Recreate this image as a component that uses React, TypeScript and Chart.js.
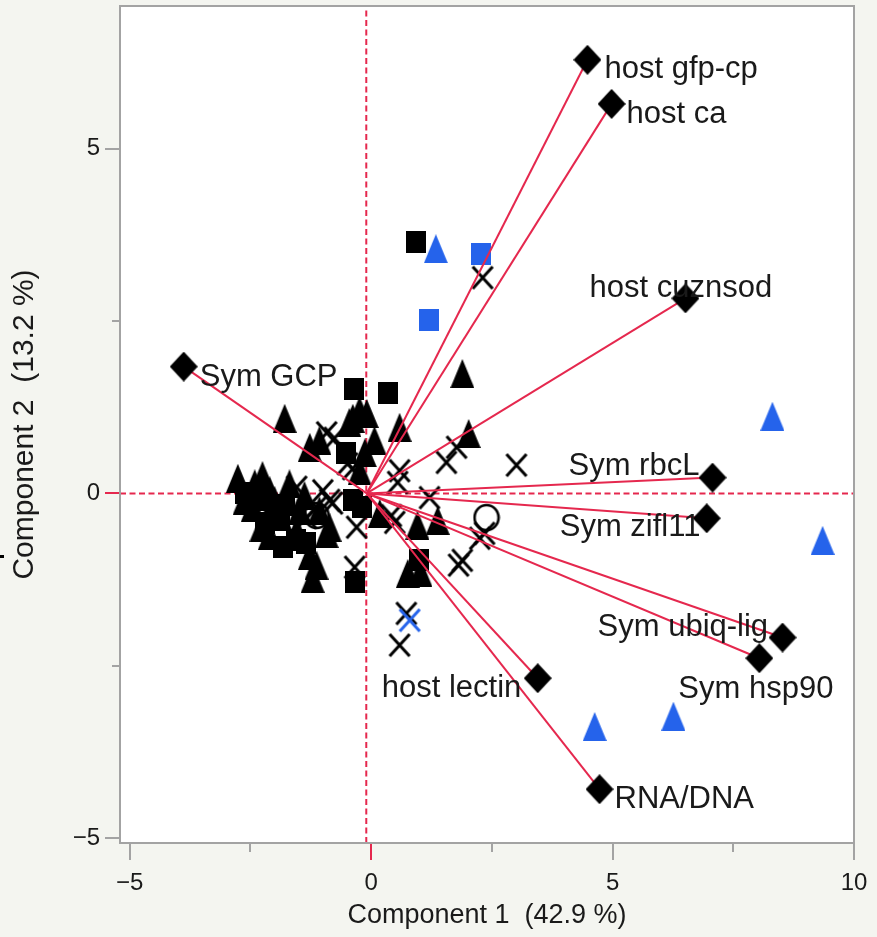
import { useEffect, useRef } from "react";
import { Chart, registerables } from "chart.js";

Chart.register(...registerables);

// ---------- axes ----------
const X_MIN = -5.2;
const X_MAX = 10;
const Y_MIN = -5.07;
const Y_MAX = 7.07;
const X_TICKS = [-5, -2.5, 0, 2.5, 5, 7.5, 10];
const Y_TICKS = [-5, -2.5, 0, 2.5, 5];
const X_TITLE = "Component 1  (42.9 %)";
const Y_TITLE = "Component 2  (13.2 %)";

// ---------- loadings (biplot rays) ----------
const ORIGIN: [number, number] = [-0.09, 0];
const LOADING_NAMES = [
  "host gfp-cp",
  "host ca",
  "host cuznsod",
  "Sym GCP",
  "Sym rbcL",
  "Sym zifl11",
  "Sym ubiq-lig",
  "Sym hsp90",
  "host lectin",
  "RNA/DNA",
];
const LOADING_X = [4.48, 4.98, 6.51, -3.88, 7.07, 6.95, 8.52, 8.04, 3.45, 4.73];
const LOADING_Y = [6.29, 5.65, 2.83, 1.84, 0.23, -0.36, -2.09, -2.39, -2.68, -4.29];

// ---------- scores ----------
const BLACK_TRIANGLES: [number, number][] = [
  [-1.79, 1.09], [-1.27, 0.67], [-1.07, 0.77], [-2.76, 0.22], [-2.41, 0.14],
  [-2.25, 0.26], [-1.69, 0.14], [-2.45, -0.2], [-2.27, -0.49], [-2.0, -0.1],
  [-1.48, -0.25], [-1.21, -1.23], [-0.92, -0.58], [-1.54, -0.54], [-2.1, -0.61],
  [-1.27, -0.9], [-1.07, -0.25], [-0.24, 1.2], [-0.09, 1.16], [0.59, 0.96],
  [-0.45, 1.03], [0.07, 0.77], [-0.13, 0.59], [1.89, 1.74], [2.02, 0.87],
  [0.96, -0.46], [1.38, -0.39], [0.18, -0.29], [0.76, -1.16], [1.02, -1.14],
  [-1.13, -1.04], [-0.38, 1.09], [-0.86, -0.49], [-0.24, 0.33], [-2.62, -0.1],
  [-1.89, -0.32], [-1.38, -0.03], [-2.1, 0.04],
];
const BLACK_SQUARES: [number, number][] = [
  [0.94, 3.65], [-0.36, 1.52], [0.34, 1.46], [-0.51, 0.59], [-0.38, -0.1],
  [-0.18, -0.2], [-0.34, -1.29], [1.0, -0.97], [-1.83, -0.78], [-1.34, -0.72],
  [-2.62, 0.01], [-2.2, -0.43], [-1.89, -0.39], [-1.56, -0.68], [-1.79, -0.17],
  [-2.35, -0.1],
];
const BLACK_CROSSES: [number, number][] = [
  [2.31, 3.13], [1.77, 0.67], [1.56, 0.45], [3.01, 0.41], [1.21, -0.06],
  [2.35, -0.58], [2.25, -0.65], [1.81, -1.04], [1.89, -0.97], [-0.34, -1.07],
  [0.73, -1.74], [0.59, -2.2], [0.59, 0.33], [0.55, 0.16], [-0.38, 0.36],
  [0.49, -0.42], [-0.3, -0.49], [-0.92, 0.88], [-0.49, 0.43], [-1.0, 0.04],
  [-0.8, -0.14], [-1.13, -0.2], [-0.86, -0.1], [-1.34, -0.35], [0.42, -0.32],
  [-1.54, 0.09], [-0.76, 0.8],
];
const BLACK_CIRCLES: [number, number][] = [[2.39, -0.35], [-1.13, -0.32]];
const BLUE_TRIANGLES: [number, number][] = [
  [1.34, 3.55], [8.31, 1.12], [9.35, -0.68], [6.26, -3.23], [4.63, -3.38],
];
const BLUE_SQUARES: [number, number][] = [[2.27, 3.48], [1.19, 2.51]];
const BLUE_CROSSES: [number, number][] = [[0.8, -1.84]];

// ---------- styling (not data) ----------
const LABEL_OFFSETS: [number, number][] = [
  [17, 18], [15, 19], [-96, -1], [16, 19], [-144, -3],
  [-147, 18], [-185, -2], [-81, 40], [-156, 19], [15, 19],
];
const RED = "#e5284e";
const BLUE = "#2563eb";
const BLACK = "#000000";
const FRAME = "#a3a3a3";
const TEXT = "#1a1a1a";
const BG = "#f4f5f0";
const FONT = '"Liberation Sans", Arial, sans-serif';

type Kind = "triangle" | "square" | "cross" | "circle" | "diamond";

function makeMarker(kind: Kind, color: string): HTMLCanvasElement {
  const c = document.createElement("canvas");
  const sizes: Record<Kind, [number, number]> = {
    triangle: [24, 29],
    square: [20, 22],
    cross: [24, 26],
    circle: [28, 29],
    diamond: [28, 30],
  };
  const [w, h] = sizes[kind];
  c.width = w;
  c.height = h;
  const ctx = c.getContext("2d")!;
  ctx.fillStyle = color;
  ctx.strokeStyle = color;
  if (kind === "triangle") {
    ctx.beginPath();
    ctx.moveTo(w / 2, 0);
    ctx.lineTo(w, h);
    ctx.lineTo(0, h);
    ctx.closePath();
    ctx.fill();
  } else if (kind === "square") {
    ctx.fillRect(0, 0, w, h);
  } else if (kind === "cross") {
    ctx.lineWidth = 3;
    ctx.beginPath();
    ctx.moveTo(2, 2);
    ctx.lineTo(w - 2, h - 2);
    ctx.moveTo(w - 2, 2);
    ctx.lineTo(2, h - 2);
    ctx.stroke();
  } else if (kind === "circle") {
    ctx.lineWidth = 2.6;
    ctx.beginPath();
    ctx.ellipse(w / 2, h / 2, w / 2 - 2, h / 2 - 2, 0, 0, Math.PI * 2);
    ctx.stroke();
  } else {
    ctx.beginPath();
    ctx.moveTo(w / 2, 0);
    ctx.lineTo(w, h / 2);
    ctx.lineTo(w / 2, h);
    ctx.lineTo(0, h / 2);
    ctx.closePath();
    ctx.fill();
  }
  return c;
}

const toPts = (arr: [number, number][]) => arr.map(([x, y]) => ({ x, y }));

const tickLabel = (v: number) =>
  v % 5 === 0 ? (v < 0 ? "\u2212" + Math.abs(v) : String(v)) : "";

export default function App() {
  const ref = useRef<HTMLCanvasElement | null>(null);

  useEffect(() => {
    if (!ref.current) return;
    Chart.defaults.font.family = FONT;

    const scatter = (data: [number, number][], marker: HTMLCanvasElement, order: number) => ({
      type: "scatter" as const,
      data: toPts(data),
      pointStyle: marker,
      pointRadius: 5,
      showLine: false,
      order,
    });

    const loadingLines = LOADING_NAMES.map((_, i) => ({
      type: "scatter" as const,
      data: [
        { x: ORIGIN[0], y: ORIGIN[1] },
        { x: LOADING_X[i], y: LOADING_Y[i] },
      ],
      showLine: true,
      borderColor: RED,
      borderWidth: 2,
      pointRadius: 0,
      order: 1,
    }));

    const frameAndLabels = {
      id: "frameAndLabels",
      beforeDraw(chart: any) {
        const { ctx, chartArea: a } = chart;
        ctx.save();
        ctx.fillStyle = BG;
        ctx.fillRect(0, 0, chart.width, chart.height);
        ctx.fillStyle = "#ffffff";
        ctx.fillRect(a.left, a.top, a.right - a.left, a.bottom - a.top);
        ctx.restore();
      },
      afterDatasetsDraw(chart: any) {
        const { ctx, chartArea: a, scales } = chart;
        const xs = scales.x;
        const ys = scales.y;
        ctx.save();
        // frame
        ctx.strokeStyle = FRAME;
        ctx.lineWidth = 2;
        ctx.strokeRect(a.left, a.top, a.right - a.left, a.bottom - a.top);
        // ticks
        X_TICKS.forEach((v) => {
          const px = Math.round(xs.getPixelForValue(v));
          const len = v % 5 === 0 ? 16 : 8;
          ctx.strokeStyle = v === 0 ? RED : FRAME;
          ctx.lineWidth = 2;
          ctx.beginPath();
          ctx.moveTo(px, a.bottom + 1);
          ctx.lineTo(px, a.bottom + 1 + len);
          ctx.stroke();
        });
        Y_TICKS.forEach((v) => {
          const py = Math.round(ys.getPixelForValue(v));
          const len = v % 5 === 0 ? 14 : 7;
          ctx.strokeStyle = v === 0 ? RED : FRAME;
          ctx.lineWidth = 2;
          ctx.beginPath();
          ctx.moveTo(a.left - 1, py);
          ctx.lineTo(a.left - 1 - len, py);
          ctx.stroke();
        });
        // stray mark at left edge
        ctx.fillStyle = "#000";
        ctx.fillRect(0, 555, 4, 3);
        // loading labels
        ctx.fillStyle = TEXT;
        ctx.font = `31px ${FONT}`;
        ctx.textBaseline = "alphabetic";
        ctx.textAlign = "left";
        LOADING_NAMES.forEach((name, i) => {
          const px = xs.getPixelForValue(LOADING_X[i]);
          const py = ys.getPixelForValue(LOADING_Y[i]);
          ctx.fillText(name, px + LABEL_OFFSETS[i][0], py + LABEL_OFFSETS[i][1]);
        });
        ctx.restore();
      },
    };

    const chart = new Chart(ref.current, {
      type: "scatter",
      data: {
        datasets: [
          scatter(
            LOADING_X.map((x, i) => [x, LOADING_Y[i]] as [number, number]),
            makeMarker("diamond", BLACK),
            0
          ),
          ...loadingLines,
          scatter(BLUE_CROSSES, makeMarker("cross", BLUE), 2),
          scatter(BLUE_SQUARES, makeMarker("square", BLUE), 2),
          scatter(BLUE_TRIANGLES, makeMarker("triangle", BLUE), 2),
          scatter(BLACK_SQUARES, makeMarker("square", BLACK), 3),
          scatter(BLACK_TRIANGLES, makeMarker("triangle", BLACK), 4),
          scatter(BLACK_CROSSES, makeMarker("cross", BLACK), 5),
          scatter(BLACK_CIRCLES, makeMarker("circle", BLACK), 6),
          {
            type: "scatter" as const,
            data: [
              { x: X_MIN, y: 0 },
              { x: X_MAX, y: 0 },
            ],
            showLine: true,
            borderColor: RED,
            borderWidth: 2,
            borderDash: [6, 3.5],
            pointRadius: 0,
            order: 10,
          },
          {
            type: "scatter" as const,
            data: [
              { x: -0.1, y: Y_MIN },
              { x: -0.1, y: Y_MAX },
            ],
            showLine: true,
            borderColor: RED,
            borderWidth: 2,
            borderDash: [6, 3.5],
            pointRadius: 0,
            order: 10,
          },
        ] as any,
      },
      options: {
        animation: false,
        responsive: false,
        devicePixelRatio: 1,
        events: [],
        layout: { padding: { top: 5, right: 23, left: 0, bottom: 0 } },
        plugins: { legend: { display: false }, tooltip: { enabled: false } },
        scales: {
          x: {
            type: "linear",
            min: X_MIN,
            max: X_MAX,
            afterFit(s: any) {
              s.height = 94;
              s.paddingLeft = 0;
              s.paddingRight = 0;
            },
            afterBuildTicks(s: any) {
              s.ticks = X_TICKS.map((v) => ({ value: v }));
            },
            grid: { display: false, drawTicks: false },
            border: { display: false },
            ticks: {
              callback: (v: any) => tickLabel(Number(v)),
              font: { size: 24, family: FONT },
              color: TEXT,
              padding: 26,
              maxRotation: 0,
              autoSkip: false,
            },
            title: {
              display: true,
              text: X_TITLE,
              font: { size: 27, family: FONT },
              color: TEXT,
              padding: { top: 0, bottom: 5 },
            },
          },
          y: {
            type: "linear",
            min: Y_MIN,
            max: Y_MAX,
            afterFit(s: any) {
              s.width = 120;
              s.paddingTop = 0;
              s.paddingBottom = 0;
            },
            afterBuildTicks(s: any) {
              s.ticks = Y_TICKS.map((v) => ({ value: v }));
            },
            grid: { display: false, drawTicks: false },
            border: { display: false },
            ticks: {
              callback: (v: any) => tickLabel(Number(v)),
              font: { size: 24, family: FONT },
              color: TEXT,
              padding: 20,
              autoSkip: false,
            },
            title: {
              display: true,
              text: Y_TITLE,
              font: { size: 30, family: FONT },
              color: TEXT,
              padding: { top: 7, bottom: 0 },
            },
          },
        },
      },
      plugins: [frameAndLabels],
    });

    return () => chart.destroy();
  }, []);

  return (
    <div
      style={{
        position: "fixed",
        left: 0,
        top: 0,
        width: 877,
        height: 937,
        background: BG,
      }}
    >
      <canvas ref={ref} width={877} height={937} style={{ display: "block" }} />
    </div>
  );
}
